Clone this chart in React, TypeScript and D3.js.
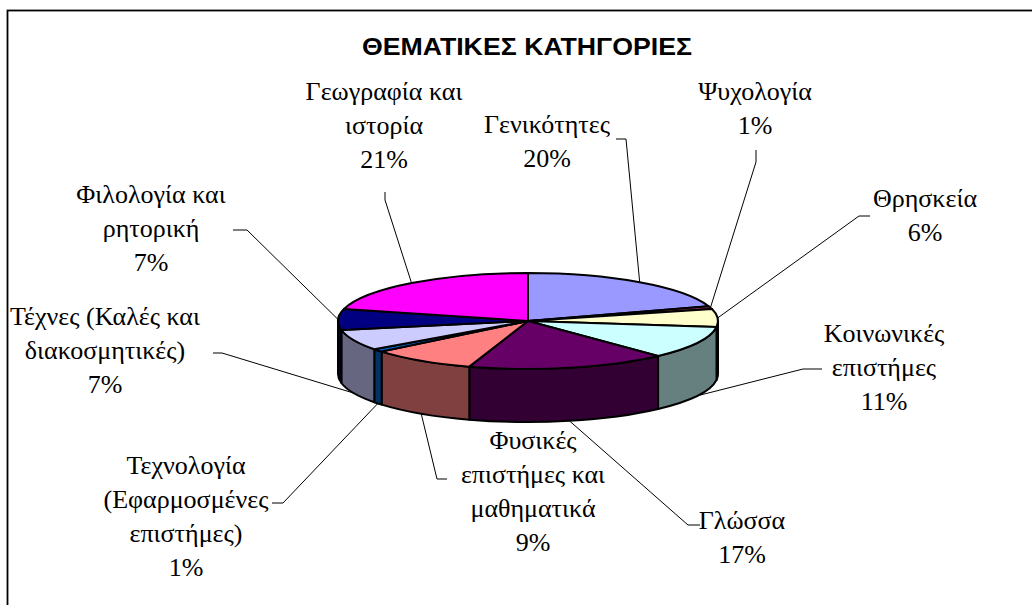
import React from "react";
import * as d3 from "d3";

const title = "ΘΕΜΑΤΙΚΕΣ ΚΑΤΗΓΟΡΙΕΣ";
const categories = [
  ["Γενικότητες"],
  ["Ψυχολογία"],
  ["Θρησκεία"],
  ["Κοινωνικές", "επιστήμες"],
  ["Γλώσσα"],
  ["Φυσικές", "επιστήμες και", "μαθηματικά"],
  ["Τεχνολογία", "(Εφαρμοσμένες", "επιστήμες)"],
  ["Τέχνες (Καλές και", "διακοσμητικές)"],
  ["Φιλολογία και", "ρητορική"],
  ["Γεωγραφία και", "ιστορία"],
];
const values = [20, 1, 6, 11, 17, 9, 1, 7, 7, 21];
const colors = ["#9999FF", "#993366", "#FFFFCC", "#CCFFFF", "#660066", "#FF8080", "#0066CC", "#CCCCFF", "#000080", "#FF00FF"];

// label layout: text centre x, first baseline y, leader elbow, tick end
const labelLayout = [
  { x: 547, y: 133, elbow: [626, 139], tick: [616, 139] },
  { x: 755, y: 100, elbow: [756, 162], tick: [756, 150] },
  { x: 925, y: 207, elbow: [859, 216], tick: [870, 216] },
  { x: 884, y: 342, elbow: [803, 369], tick: [822, 369] },
  { x: 742, y: 529, elbow: [688, 525], tick: [700, 525] },
  { x: 533, y: 449, elbow: [437, 479], tick: [447, 479] },
  { x: 186, y: 474, elbow: [283, 503], tick: [272, 503] },
  { x: 105, y: 325, elbow: [222, 353], tick: [213, 353] },
  { x: 151, y: 203, elbow: [247, 230], tick: [233, 230] },
  { x: 384, y: 100, elbow: [385, 200], tick: [385, 192] },
];

const W = 1032, H = 605;
const cx = 528, cy = 321, rx = 190, ry = 48, depth = 53;
const lineH = 34;

function pt(a: number, dy = 0): [number, number] {
  return [cx + rx * Math.sin(a), cy - ry * Math.cos(a) + dy];
}
function darken(c: string) {
  const r = d3.rgb(c);
  return d3.rgb(r.r * 0.5, r.g * 0.5, r.b * 0.5).formatHex();
}

export default function App() {
  const total = d3.sum(values);
  const pie = d3.pie<number>().sort(null).startAngle(0).endAngle(2 * Math.PI);
  const arcs = pie(values);

  const tops = arcs.map((d, i) => {
    const p0 = pt(d.startAngle), p1 = pt(d.endAngle);
    const large = d.endAngle - d.startAngle > Math.PI ? 1 : 0;
    return (
      <path key={"t" + i}
        d={`M${cx},${cy}L${p0[0]},${p0[1]}A${rx},${ry} 0 ${large} 1 ${p1[0]},${p1[1]}Z`}
        fill={colors[i]} stroke="#000" strokeWidth={2} strokeLinejoin="round" />
    );
  });

  const sides = arcs.map((d, i) => {
    const s = Math.max(d.startAngle, Math.PI / 2);
    const e = Math.min(d.endAngle, (3 * Math.PI) / 2);
    if (e <= s) return null;
    const a = pt(s), b = pt(e), bb = pt(e, depth), ab = pt(s, depth);
    const large = e - s > Math.PI ? 1 : 0;
    return (
      <path key={"s" + i}
        d={`M${a[0]},${a[1]}A${rx},${ry} 0 ${large} 1 ${b[0]},${b[1]}L${bb[0]},${bb[1]}A${rx},${ry} 0 ${large} 0 ${ab[0]},${ab[1]}Z`}
        fill={darken(colors[i])} stroke="#000" strokeWidth={2} strokeLinejoin="round" />
    );
  });

  const leaders = arcs.map((d, i) => {
    const mid = (d.startAngle + d.endAngle) / 2;
    const front = mid > Math.PI / 2 && mid < (3 * Math.PI) / 2;
    const anchor = pt(mid, front ? depth : 0);
    const L = labelLayout[i];
    return (
      <polyline key={"p" + i} points={`${anchor[0]},${anchor[1]} ${L.elbow[0]},${L.elbow[1]} ${L.tick[0]},${L.tick[1]}`}
        fill="none" stroke="#000" strokeWidth={1} />
    );
  });

  const texts: React.ReactNode[] = [];
  values.forEach((v, i) => {
    const L = labelLayout[i];
    const lines = [...categories[i], `${Math.round((v / total) * 100)}%`];
    lines.forEach((t, k) => {
      texts.push(
        <text key={`t${i}-${k}`} x={L.x} y={L.y + k * lineH} textAnchor="middle" fontFamily="Liberation Serif" fontSize={26} fill="#000">{t}</text>
      );
    });
  });

  return (
    <svg width={W} height={H} style={{ position: "absolute", left: 0, top: 0 }}>
      <rect x={0} y={0} width={W} height={H} fill="#fff" />
      <rect x={7.5} y={10.5} width={W + 20} height={H + 20} fill="none" stroke="#000" strokeWidth={1.8} />
      <text x={527} y={55} textAnchor="middle" fontFamily="Liberation Sans" fontWeight="bold" fontSize={24}
        textLength={330} lengthAdjust="spacingAndGlyphs" fill="#000">{title}</text>
      {sides}
      {tops}
      {leaders}
      {texts}
    </svg>
  );
}
